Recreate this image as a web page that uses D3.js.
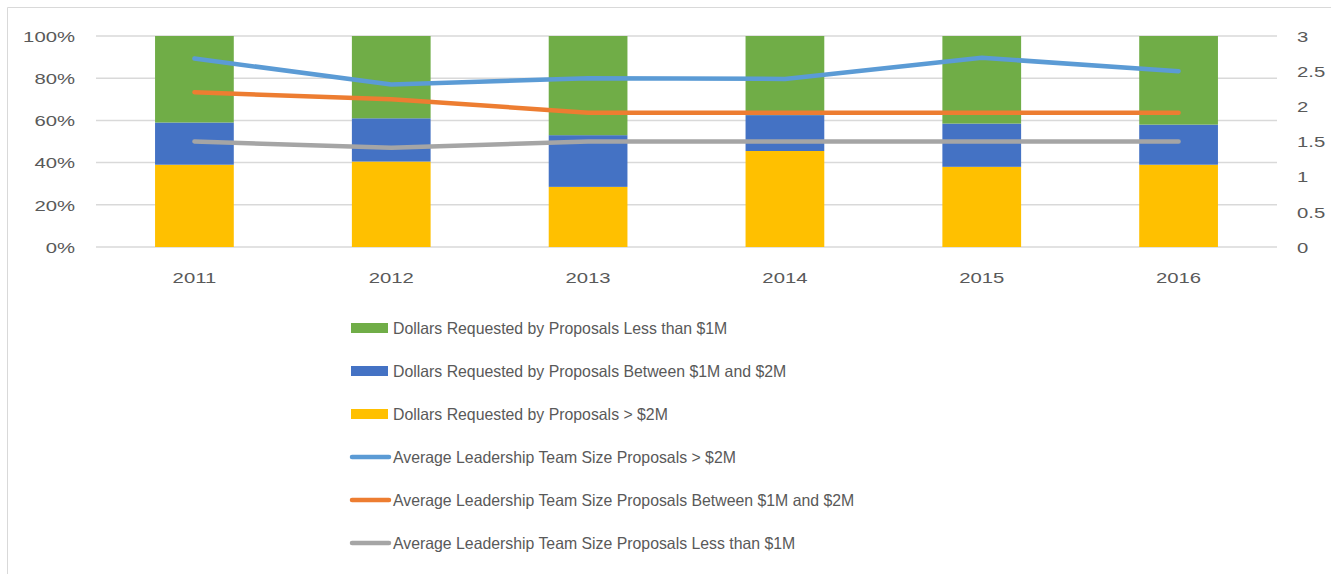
<!DOCTYPE html>
<html>
<head>
<meta charset="utf-8">
<script src="https://cdn.jsdelivr.net/npm/d3@7"></script>
<style>
  body { margin: 0; background: #fff; }
  text { font-family: "Liberation Sans", Arial, sans-serif; fill: #595959; }
</style>
</head>
<body>
<div id="chart"></div>
<script>
// years on the x axis
const years = ['2011', '2012', '2013', '2014', '2015', '2016'];

// stacked shares of dollars requested (percent)
const over2M = [39, 40.5, 28.5, 45.5, 38, 39];
const between1and2M = [20, 20.5, 24.5, 17, 20.5, 19];
const under1M = [41, 39, 47, 37.5, 41.5, 42];

// average leadership team size (right axis)
const teamOver2M = [2.68, 2.31, 2.4, 2.39, 2.69, 2.5];
const teamBetween = [2.2, 2.1, 1.91, 1.91, 1.91, 1.91];
const teamUnder1M = [1.5, 1.41, 1.5, 1.5, 1.5, 1.5];

const leftTicks = [0, 20, 40, 60, 80, 100];
const rightTicks = [0, 0.5, 1, 1.5, 2, 2.5, 3];

const width = 1331;
const height = 574;
const margin = {left: 96, right: 54, top: 36, bottom: 327};

const svg = d3.select('#chart').append('svg')
  .attr('width', width)
  .attr('height', height);

// chart frame (only top and left edges fall inside the picture)
svg.append('path')
  .attr('d', 'M7.5,' + height + 'V7.5H' + width)
  .attr('fill', 'none')
  .attr('stroke', '#d9d9d9')
  .attr('stroke-width', 1);

const x = d3.scaleBand()
  .domain(years)
  .range([margin.left, width - margin.right])
  .paddingInner(0.6)
  .paddingOuter(0.3);

const yLeft = d3.scaleLinear().domain([0, 100]).range([height - margin.bottom, margin.top]);
const yRight = d3.scaleLinear().domain([0, 3]).range([height - margin.bottom, margin.top]);

// the text in the picture is stretched sideways
const stretch = 1.45;
function label(g, px, py, txt, anchor, size, sx) {
  g.append('g')
    .attr('transform', 'translate(' + px + ',' + py + ') scale(' + sx + ',1)')
    .append('text')
      .attr('text-anchor', anchor)
      .attr('dominant-baseline', 'central')
      .style('font-size', size + 'px')
      .text(txt);
}

// gridlines
svg.append('g').selectAll('line')
  .data(leftTicks)
  .enter().append('line')
    .attr('x1', margin.left)
    .attr('x2', width - margin.right)
    .attr('y1', d => yLeft(d))
    .attr('y2', d => yLeft(d))
    .attr('stroke', '#d9d9d9')
    .attr('stroke-width', 1.5);

// stacked bars
const rows = years.map((yr, i) => ({year: yr, a: over2M[i], b: between1and2M[i], c: under1M[i]}));
const stack = d3.stack().keys(['a', 'b', 'c'])(rows);
const barColors = {a: '#ffc000', b: '#4472c4', c: '#70ad47'};

svg.append('g').selectAll('g')
  .data(stack)
  .enter().append('g')
    .attr('fill', d => barColors[d.key])
  .selectAll('rect')
    .data(d => d)
    .enter().append('rect')
      .attr('x', d => x(d.data.year))
      .attr('width', x.bandwidth())
      .attr('y', d => yLeft(d[1]))
      .attr('height', d => yLeft(d[0]) - yLeft(d[1]));

// lines
const lineSeries = [
  {values: teamUnder1M, color: '#a5a5a5'},
  {values: teamBetween, color: '#ed7d31'},
  {values: teamOver2M, color: '#5b9bd5'}
];
const line = d3.line()
  .x((d, i) => x(years[i]) + x.bandwidth() / 2)
  .y(d => yRight(d));

svg.append('g').selectAll('path')
  .data(lineSeries)
  .enter().append('path')
    .attr('d', d => line(d.values))
    .attr('fill', 'none')
    .attr('stroke', d => d.color)
    .attr('stroke-width', 4.5)
    .attr('stroke-linecap', 'round')
    .attr('stroke-linejoin', 'round');

// axis labels
const axes = svg.append('g');
leftTicks.forEach(t => label(axes, 75, yLeft(t) + 1, t + '%', 'end', 14, stretch));
rightTicks.forEach(t => label(axes, 1297, yRight(t) + 1, String(t), 'start', 14, stretch));
years.forEach(yr => label(axes, x(yr) + x.bandwidth() / 2, 278, yr, 'middle', 14, stretch));

// legend
const legendItems = [
  {name: 'Dollars Requested by Proposals Less than $1M', color: '#70ad47', type: 'rect'},
  {name: 'Dollars Requested by Proposals Between $1M and $2M', color: '#4472c4', type: 'rect'},
  {name: 'Dollars Requested by Proposals > $2M', color: '#ffc000', type: 'rect'},
  {name: 'Average Leadership Team Size Proposals > $2M', color: '#5b9bd5', type: 'line'},
  {name: 'Average Leadership Team Size Proposals Between $1M and $2M', color: '#ed7d31', type: 'line'},
  {name: 'Average Leadership Team Size Proposals Less than $1M', color: '#a5a5a5', type: 'line'}
];

const legend = svg.append('g');
legendItems.forEach((item, i) => {
  const cy = 328 + i * 43;
  if (item.type === 'rect') {
    legend.append('rect')
      .attr('x', 351).attr('y', cy - 5)
      .attr('width', 37).attr('height', 10)
      .attr('fill', item.color);
  } else {
    legend.append('line')
      .attr('x1', 352).attr('x2', 389)
      .attr('y1', cy).attr('y2', cy)
      .attr('stroke', item.color)
      .attr('stroke-width', 4.5)
      .attr('stroke-linecap', 'round');
  }
  label(legend, 393, cy, item.name, 'start', 16.5, 0.96);
});
</script>
</body>
</html>
